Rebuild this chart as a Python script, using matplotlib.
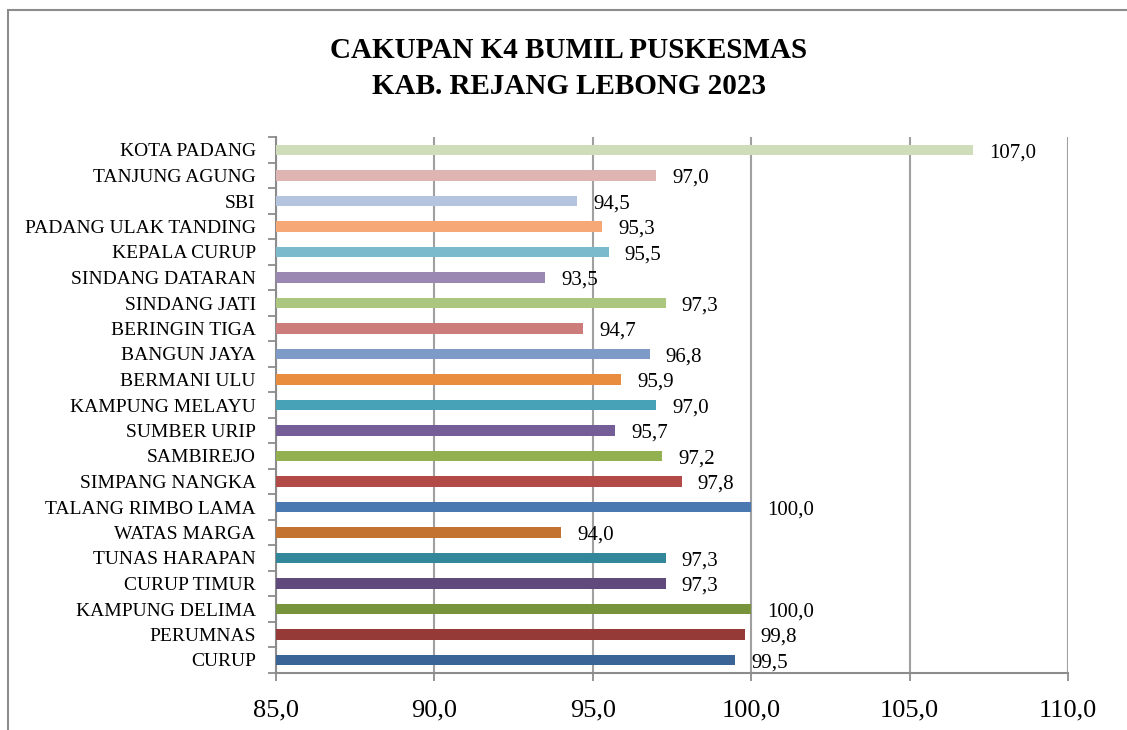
import matplotlib
matplotlib.use("Agg")
import matplotlib.pyplot as plt
from matplotlib.patches import Rectangle
from matplotlib.ticker import FixedLocator
import matplotlib.transforms as mtrans

categories = ["CURUP", "PERUMNAS", "KAMPUNG DELIMA", "CURUP TIMUR", "TUNAS HARAPAN",
              "WATAS MARGA", "TALANG RIMBO LAMA", "SIMPANG NANGKA", "SAMBIREJO",
              "SUMBER URIP", "KAMPUNG MELAYU", "BERMANI ULU", "BANGUN JAYA",
              "BERINGIN TIGA", "SINDANG JATI", "SINDANG DATARAN", "KEPALA CURUP",
              "PADANG ULAK TANDING", "SBI", "TANJUNG AGUNG", "KOTA PADANG"]
values = [99.5, 99.8, 100.0, 97.3, 97.3, 94.0, 100.0, 97.8, 97.2, 95.7, 97.0,
          95.9, 96.8, 94.7, 97.3, 93.5, 95.5, 95.3, 94.5, 97.0, 107.0]
colors = ["#3B6496", "#963A38", "#77933C", "#604A7B", "#33879B", "#C3732F",
          "#4A78B0", "#B24A48", "#92B050", "#755E97", "#47A2B8", "#E98C3E",
          "#7E9BC8", "#CC7C7A", "#ABC67E", "#9B88B2", "#7BBACD", "#F7A877",
          "#B4C4DE", "#DFB5B4", "#CFDDBA"]
x_ticks = [85, 90, 95, 100, 105, 110]

plt.rcParams['font.family'] = ['Liberation Serif', 'DejaVu Serif']

W, H = 1127, 730
fig = plt.figure(figsize=(W / 100, H / 100), dpi=100)
fig.patch.set_facecolor("white")

# outer chart border
fig.add_artist(Rectangle((8 / W, -0.2), 1.2, 1 - 10 / H + 0.2, transform=fig.transFigure,
                         fill=False, edgecolor="#8C8C8C", linewidth=1.5, clip_on=False))

ax = fig.add_axes([276 / W, 1 - 672.75 / H, (1068 - 276) / W, (672.75 - 137.25) / H])
ypos = list(range(len(categories)))
ax.barh(ypos, [v - 85 for v in values], left=85, height=0.42, color=colors, zorder=3)

ax.set_xlim(85, 110)
ax.set_ylim(-0.5, len(categories) - 0.5)
ax.set_xticks(x_ticks)
ax.set_xticklabels([f"{t:.1f}".replace(".", ",") for t in x_ticks], fontsize=19)
ax.set_yticks(ypos)
ax.set_yticklabels(categories, fontsize=14)
ax.tick_params(axis='y', which='major', length=0, pad=14.5)
ax.yaxis.set_minor_locator(FixedLocator([i - 0.5 for i in range(len(categories) + 1)]))
ax.tick_params(axis='y', which='minor', length=6, width=1.3, color="#8C8C8C", direction='out')
ax.tick_params(axis='x', which='major', length=6, width=1.3, color="#8C8C8C", direction='out', pad=13)

ax.grid(axis='x', color="#A0A0A0", linewidth=1.5, zorder=0)
for s in ["top", "right"]:
    ax.spines[s].set_visible(False)
for s in ["left", "bottom"]:
    ax.spines[s].set_color("#8C8C8C")
    ax.spines[s].set_linewidth(1.5)

offset = mtrans.offset_copy(ax.transData, fig=fig, x=16, y=-3, units='dots')
for y, v in zip(ypos, values):
    ax.text(v, y, f"{v:.1f}".replace(".", ","), transform=offset, fontsize=15,
            va='center', ha='left', color="black", zorder=4)

fig.text(569 / W, 1 - 50 / H, "CAKUPAN K4 BUMIL PUSKESMAS", ha='center', va='center',
         fontsize=21, fontweight='bold')
fig.text(569 / W, 1 - 87 / H, "KAB. REJANG LEBONG 2023", ha='center', va='center',
         fontsize=21, fontweight='bold')

fig.savefig("out.png", dpi=100, facecolor="white")
